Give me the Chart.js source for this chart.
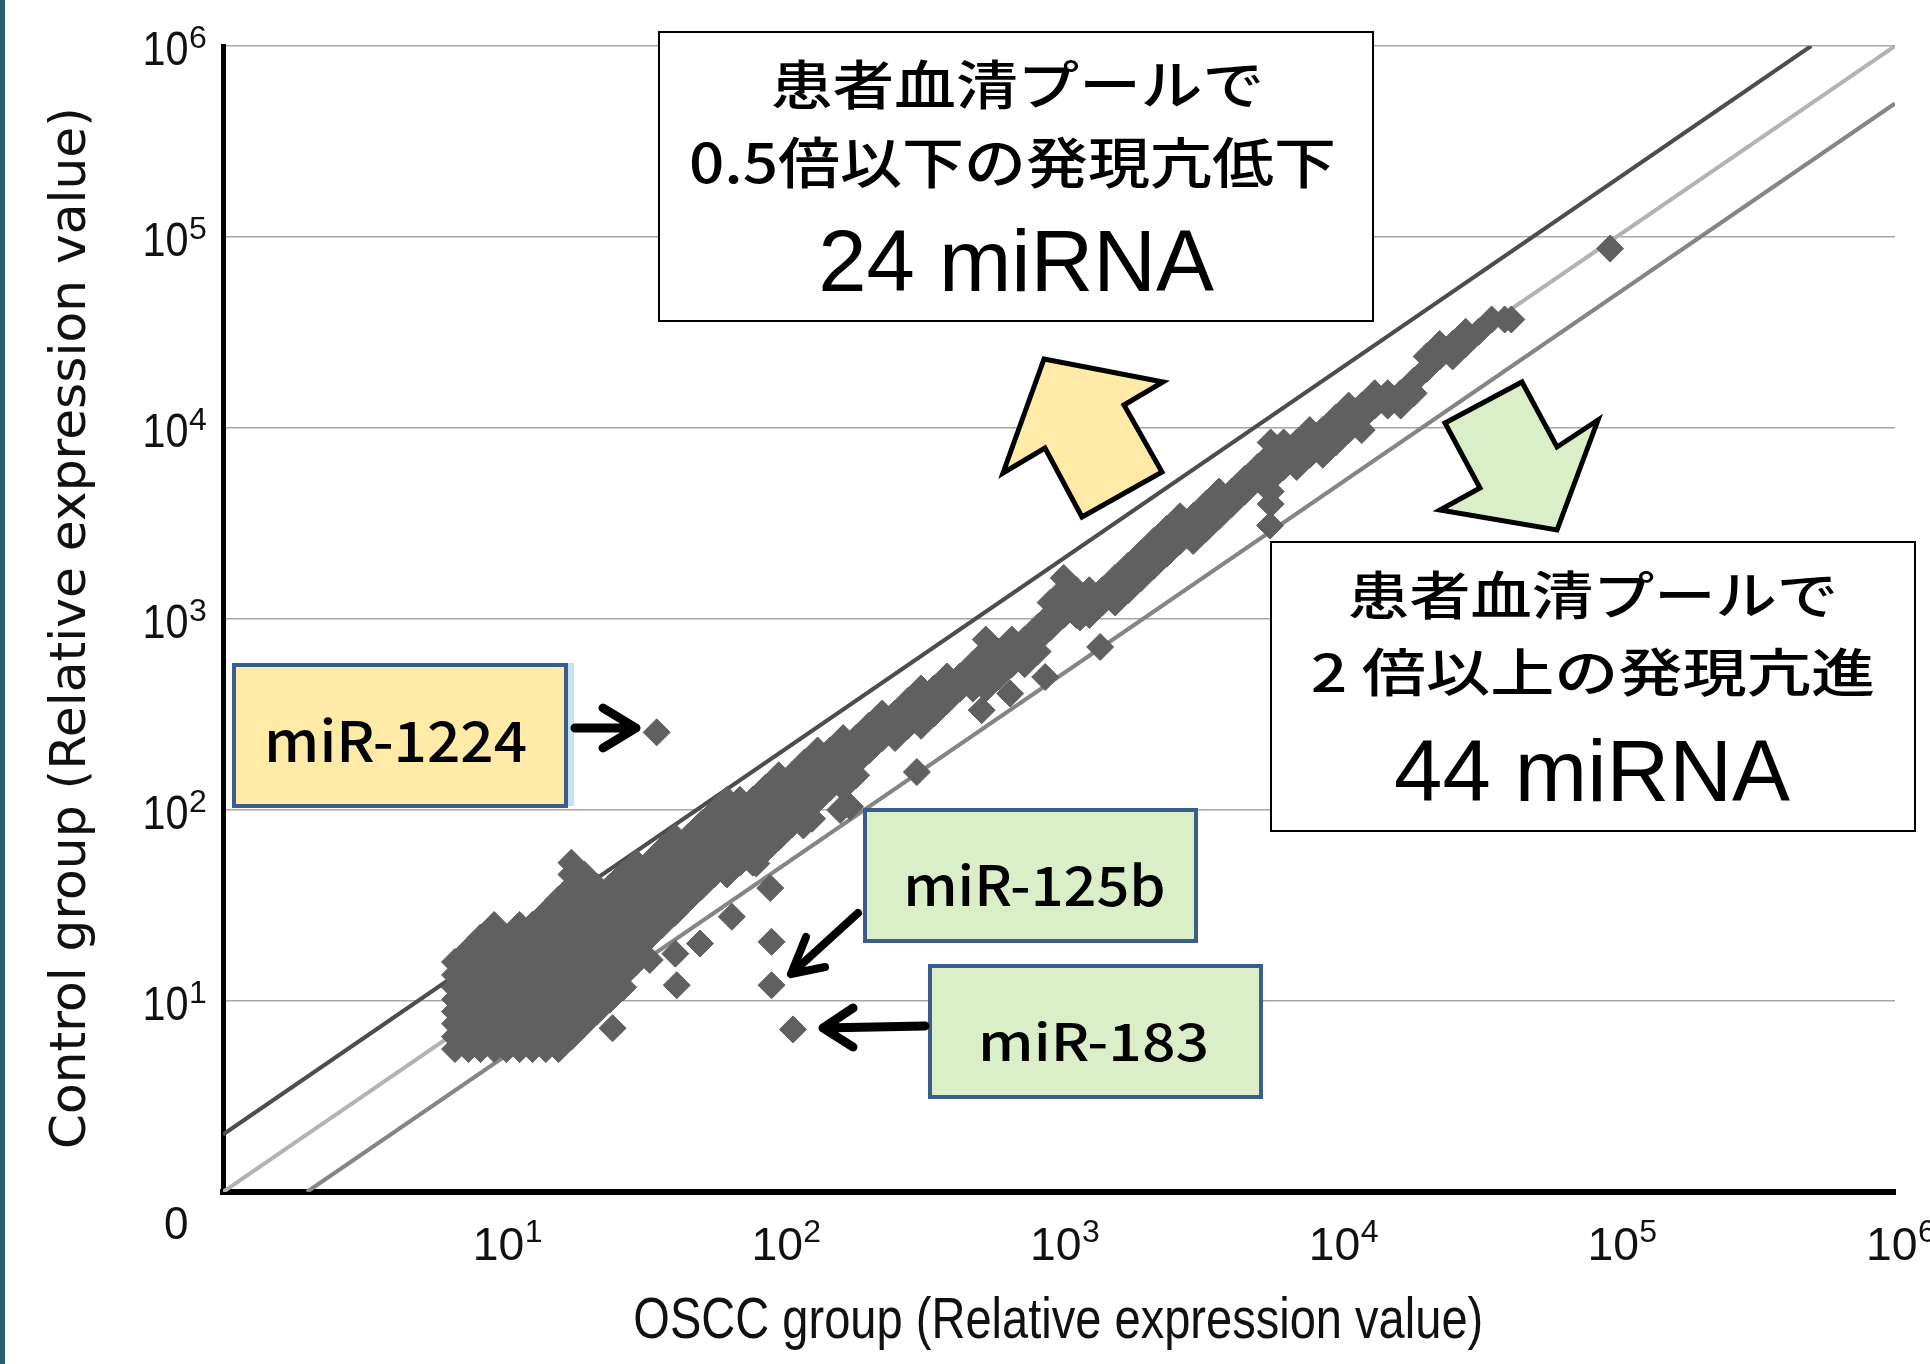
<!DOCTYPE html>
<html>
<head>
<meta charset="utf-8">
<title>OSCC vs Control miRNA</title>
<script src="https://cdn.jsdelivr.net/npm/chart.js@4.4.1/dist/chart.umd.min.js"></script>
<style>
  html, body { margin: 0; padding: 0; background: #fff; }
  #wrap { width: 1930px; height: 1364px; }
</style>
</head>
<body>
<div id="wrap"><canvas id="scatter" width="1930" height="1364"></canvas></div>
<script>
(() => {
  'use strict';

  // dense band of miRNAs, one column per OSCC value, control values per column
  const bandOscc = [6.8, 7.6, 8.4, 9.4, 10.4, 11.6, 12.9, 14.4, 16, 17.8, 19.8, 22, 24.5, 27.3, 30.4, 33.8,
    37.6, 41.9, 46.6, 51.9, 57.8, 64.3, 71.6, 79.7, 88.7, 98.7, 110, 122, 136, 151, 168, 187,
    208, 232, 258, 287, 320, 356, 396, 441, 491, 546, 608, 677, 753, 838, 933, 1040, 1155, 1285,
    1430, 1590, 1770, 1970, 2190, 2440, 2720, 3030, 3370, 3750, 4170, 4640, 5170, 5750, 6400,
    7130, 7940, 8840, 9840, 10950, 12200, 13580, 15120, 16830, 18740, 20860, 23230, 25860,
    28790, 32050, 35690, 39730, 42000];

  const bandControl = [
    [16, 13.7, 11.8, 10.2, 8.8, 7.6, 6.5, 5.6],
    [18.5, 16, 13.7, 11.8, 10.2, 8.8, 7.6, 6.5, 5.6],
    [21.5, 18.5, 16, 13.7, 11.8, 10.2, 8.8, 7.6, 6.5, 5.6],
    [25, 21.5, 18.5, 16, 13.7, 11.8, 10.2, 8.8, 7.6, 6.5, 5.6],
    [21.5, 18.5, 16, 13.7, 11.8, 10.2, 8.8, 7.6, 6.5, 5.6],
    [25, 21.5, 18.5, 16, 13.7, 11.8, 10.2, 8.8, 7.6, 6.5, 5.6],
    [25, 21.5, 18.5, 16, 13.7, 11.8, 10.2, 8.8, 7.6, 6.5, 5.6],
    [29, 25, 21.5, 18.5, 16, 13.7, 11.8, 10.2, 8.8, 7.6, 6.5, 5.6],
    [34, 29, 25, 21.5, 18.5, 16, 13.7, 11.8, 10.2, 8.8, 7.6, 6.5, 5.6],
    [53, 46, 39.5, 34, 29, 25, 21.5, 18.5, 16, 13.7, 11.8, 10.2, 8.8, 7.6, 6.5],
    [46, 39.5, 34, 29, 25, 21.5, 18.5, 16, 13.7, 11.8, 10.2, 8.8, 7.6],
    [39.5, 34, 29, 25, 21.5, 18.5, 16, 13.7, 11.8, 10.2, 8.8],
    [39.5, 34, 29, 25, 21.5, 18.5, 16, 13.7, 11.8, 10.2],
    [46, 39.5, 34, 29, 25, 21.5, 18.5, 16, 13.7, 11.8],
    [53, 46, 39.5, 34, 29, 25, 21.5, 18.5, 16],
    [53, 46, 39.5, 34, 29, 25, 21.5],
    [62, 53, 46, 39.5, 34, 29, 25],
    [72, 62, 53, 46, 39.5, 34, 29],
    [72, 62, 53, 46, 39.5, 34],
    [84, 72, 62, 53, 46, 39.5],
    [97, 84, 72, 62, 53, 46],
    [113, 97, 84, 72, 62, 53, 46],
    [113, 97, 84, 72, 62, 53],
    [113, 97, 84, 72, 62, 53],
    [131, 113, 97, 84, 72, 62],
    [152, 131, 113, 97, 84, 72],
    [152, 131, 113, 97, 84],
    [177, 152, 131, 113, 97],
    [205, 177, 152, 131, 113],
    [205, 177, 152, 131],
    [238, 205, 177, 152, 131],
    [238, 205, 177, 152],
    [276, 238, 205],
    [320, 276, 238],
    [320, 276, 238],
    [372, 320, 276],
    [432, 372, 320, 276],
    [432, 372, 320],
    [500, 432, 372],
    [500, 432],
    [580, 500, 432],
    [780, 675, 580, 500, 432],
    [675, 580, 500],
    [780, 675, 580],
    [780, 675, 580],
    [905, 780, 675],
    [1220, 1050, 905],
    [1640, 1415, 1220, 1050],
    [1415, 1220, 1050],
    [1415, 1220, 1050],
    [1415, 1220],
    [1640, 1415, 1220],
    [1900, 1640, 1415],
    [2200, 1900, 1640],
    [2560, 2200, 1900],
    [2970, 2560, 2200],
    [3450, 2970, 2560],
    [3450, 2970, 2560],
    [4000, 3450, 2970],
    [4650, 4000, 3450],
    [4650, 4000],
    [5400, 4650],
    [6250, 5400],
    [8400, 7250, 6250, 5400, 4650, 4000],
    [8400, 7250, 6250],
    [8400, 7250, 6250],
    [9750, 8400, 7250],
    [9750, 8400, 7250],
    [11300, 9750, 8400],
    [13100, 11300, 9750],
    [13100, 11300, 9750],
    [15200, 13100],
    [15200, 13100],
    [15200, 13100],
    [17600, 15200],
    [23700, 20400],
    [27500, 23700],
    [27500, 23700],
    [31900, 27500],
    [31900],
    [37000],
    [37000],
    [37000]
  ];

  // isolated miRNAs (miR-1224, miR-125b, miR-183 and others off the band)
  const soloOscc = [36, 95000, 93, 93, 111, 42.5, 67, 92, 51.5, 42, 34, 25, 130, 164, 178, 121, 82,
    309, 528, 668, 892, 1405, 5720, 1190];
  const soloControl = [255, 87000, 20.4, 12.1, 7.1, 12.1, 27.6, 39, 20, 17.7, 16.4, 7.2, 90, 100, 104, 83, 52.5,
    158, 333, 407, 497, 714, 3090, 1020];

  // guide lines: control = 2 x OSCC, = OSCC, = 0.5 x OSCC
  const upLineOscc = [1, 500000];
  const upLineControl = [2, 1000000];
  const eqLineOscc = [1, 1000000];
  const eqLineControl = [1, 1000000];
  const downLineOscc = [2, 1000000];
  const downLineControl = [1, 500000];

  const decadeTicks = [1, 10, 100, 1000, 10000, 100000, 1000000];
  const tickExponents = ['0', '1', '2', '3', '4', '5', '6'];

  const xTitle = 'OSCC group (Relative expression value)';
  const yTitle = 'Control group (Relative expression value)';

  const TICK_FONT = "48px 'Liberation Sans', Arial, sans-serif";
  const SUP_FONT = "32px 'Liberation Sans', Arial, sans-serif";
  const CJK_FONT = "500 60px 'Noto Sans CJK JP', sans-serif";
  const BIG_FONT = "90px 'Liberation Sans', Arial, sans-serif";

  const points = [];
  bandOscc.forEach((x, i) => bandControl[i].forEach(y => points.push({ x, y })));
  soloOscc.forEach((x, i) => points.push({ x, y: soloControl[i] }));

  const pairs = (xs, ys) => xs.map((x, i) => ({ x, y: ys[i] }));

  // draw text so that its ink fills the given box
  function fitText(ctx, text, font, x0, x1, y0, y1, color) {
    ctx.save();
    ctx.font = font;
    ctx.textAlign = 'left';
    ctx.textBaseline = 'alphabetic';
    const m = ctx.measureText(text);
    const w = m.actualBoundingBoxLeft + m.actualBoundingBoxRight;
    const h = m.actualBoundingBoxAscent + m.actualBoundingBoxDescent;
    const sx = (x1 - x0) / w;
    const sy = (y1 - y0) / h;
    ctx.translate(x0 + m.actualBoundingBoxLeft * sx, y0 + m.actualBoundingBoxAscent * sy);
    ctx.scale(sx, sy);
    ctx.fillStyle = color || '#000';
    ctx.fillText(text, 0, 0);
    ctx.restore();
  }

  function sup(ctx, text, x, baseline) {
    ctx.save();
    ctx.font = SUP_FONT;
    ctx.fillStyle = '#111';
    ctx.textAlign = 'left';
    ctx.textBaseline = 'alphabetic';
    ctx.fillText(text, x, baseline);
    ctx.restore();
  }

  function box(ctx, x0, y0, x1, y1, fill, stroke, lw) {
    ctx.save();
    ctx.fillStyle = fill;
    ctx.fillRect(x0, y0, x1 - x0, y1 - y0);
    ctx.lineWidth = lw;
    ctx.strokeStyle = stroke;
    ctx.strokeRect(x0 + lw / 2, y0 + lw / 2, x1 - x0 - lw, y1 - y0 - lw);
    ctx.restore();
  }

  function blockArrow(ctx, pts, fill) {
    ctx.save();
    ctx.beginPath();
    pts.forEach(([x, y], i) => (i ? ctx.lineTo(x, y) : ctx.moveTo(x, y)));
    ctx.closePath();
    ctx.fillStyle = fill;
    ctx.fill();
    ctx.lineWidth = 5;
    ctx.lineJoin = 'miter';
    ctx.strokeStyle = '#000';
    ctx.stroke();
    ctx.restore();
  }

  function pointer(ctx, from, tip, armA, armB, width) {
    ctx.save();
    ctx.strokeStyle = '#000';
    ctx.lineWidth = width;
    ctx.lineCap = 'round';
    ctx.lineJoin = 'round';
    ctx.beginPath();
    ctx.moveTo(from[0], from[1]);
    ctx.lineTo(tip[0], tip[1]);
    ctx.moveTo(armA[0], armA[1]);
    ctx.lineTo(tip[0], tip[1]);
    ctx.lineTo(armB[0], armB[1]);
    ctx.stroke();
    ctx.restore();
  }

  const decor = {
    id: 'decor',
    beforeDraw(chart) {
      const { ctx, width, height } = chart;
      ctx.save();
      ctx.fillStyle = '#fff';
      ctx.fillRect(0, 0, width, height);
      ctx.fillStyle = '#2b5e70';
      ctx.fillRect(0, 0, 5, height);
      ctx.restore();
    },
    afterDraw(chart) {
      const ctx = chart.ctx;
      const xs = chart.scales.x;
      const ys = chart.scales.y;

      // tick labels 10^n
      decadeTicks.forEach((v, i) => {
        if (i === 0) return;
        const g = ys.getPixelForValue(v);
        fitText(ctx, '10', TICK_FONT, 145, 187, g - 15, g + 19, '#111');
        sup(ctx, tickExponents[i], 189, g + 2);
        const t = xs.getPixelForValue(v);
        fitText(ctx, '10', TICK_FONT, t - 26, t + 21, 1227, 1260, '#111');
        sup(ctx, tickExponents[i], t + 23, 1242);
      });
      fitText(ctx, tickExponents[0], TICK_FONT, 165, 187, 1206, 1239, '#111');

      // axis titles
      fitText(ctx, xTitle, "56px 'Liberation Sans Narrow', 'Liberation Sans', sans-serif", 635, 1481, 1297, 1350, '#111');
      ctx.save();
      ctx.translate(70.5, 629);
      ctx.rotate(-Math.PI / 2);
      fitText(ctx, yTitle, "48px 'DejaVu Sans', sans-serif", -518, 518, -24.5, 24.5, '#111');
      ctx.restore();

      // big direction arrows
      blockArrow(ctx, [[1044, 359], [1163, 382], [1124, 405], [1162, 472], [1082, 517], [1045, 448], [1003, 473]], '#ffeaa8');
      blockArrow(ctx, [[1445, 423], [1522, 382], [1557, 447], [1598, 420], [1557, 530], [1440, 510], [1480, 488]], '#daefc8');

      // summary boxes
      box(ctx, 658, 31, 1374, 322, '#fff', '#000', 2);
      fitText(ctx, '患者血清プールで', CJK_FONT, 773, 1260, 58, 110);
      fitText(ctx, '0.5倍以下の発現亢低下', CJK_FONT, 691, 1333, 135, 188);
      fitText(ctx, '24 miRNA', BIG_FONT, 822, 1214, 227, 292);

      box(ctx, 1270, 541, 1916, 832, '#fff', '#000', 2);
      fitText(ctx, '患者血清プールで', CJK_FONT, 1350, 1834, 570, 620);
      fitText(ctx, '2 倍以上の発現亢進', CJK_FONT, 1313, 1874, 647, 697);
      fitText(ctx, '44 miRNA', BIG_FONT, 1396, 1790, 737, 802);

      // labelled miRNAs
      ctx.save();
      ctx.fillStyle = '#c4e3ee';
      ctx.fillRect(568, 663, 6, 143);
      ctx.restore();
      box(ctx, 232, 663, 568, 808, '#ffeaa8', '#3b5d8c', 4);
      fitText(ctx, 'miR-1224', CJK_FONT, 269, 526, 717, 762);
      box(ctx, 863, 808, 1198, 943, '#daefc8', '#3b5d8c', 4);
      fitText(ctx, 'miR-125b', CJK_FONT, 908, 1163, 862, 907);
      box(ctx, 928, 964, 1263, 1099, '#daefc8', '#3b5d8c', 4);
      fitText(ctx, 'miR-183', CJK_FONT, 983, 1206, 1020, 1062);

      pointer(ctx, [575, 728], [636, 728], [603, 708], [603, 748], 9);
      pointer(ctx, [858, 913], [791, 974], [806, 937], [825, 967], 8);
      pointer(ctx, [925, 1026], [823, 1028], [853, 1008], [853, 1047], 9);
    }
  };

  const lineStyle = (color) => ({
    showLine: true,
    pointRadius: 0,
    borderColor: color,
    borderWidth: 4,
    fill: false,
    order: 1
  });

  new Chart(document.getElementById('scatter'), {
    type: 'scatter',
    data: {
      datasets: [
        {
          label: 'miRNA',
          data: points,
          pointStyle: 'rectRot',
          pointRadius: 13.5,
          pointHoverRadius: 13.5,
          backgroundColor: '#606060',
          borderColor: '#606060',
          borderWidth: 1,
          order: 0
        },
        Object.assign({ label: '2x', data: pairs(upLineOscc, upLineControl) }, lineStyle('#4d4d4d')),
        Object.assign({ label: '1x', data: pairs(eqLineOscc, eqLineControl) }, lineStyle('#b3b3b3')),
        Object.assign({ label: '0.5x', data: pairs(downLineOscc, downLineControl) }, lineStyle('#858585'))
      ]
    },
    options: {
      responsive: false,
      animation: false,
      events: [],
      layout: { padding: { left: 223, right: 35, top: 46, bottom: 172 } },
      plugins: { legend: { display: false }, tooltip: { enabled: false } },
      scales: {
        x: {
          type: 'logarithmic',
          min: 1,
          max: 1000000,
          afterBuildTicks: s => { s.ticks = decadeTicks.map(v => ({ value: v })); },
          ticks: { display: false },
          grid: { display: false, drawTicks: false },
          border: { display: true, color: '#000', width: 6 }
        },
        y: {
          type: 'logarithmic',
          min: 1,
          max: 1000000,
          afterBuildTicks: s => { s.ticks = decadeTicks.map(v => ({ value: v })); },
          ticks: { display: false },
          grid: {
            drawTicks: false,
            lineWidth: 1.5,
            color: c => (c.tick && c.tick.value === 1 ? 'rgba(0,0,0,0)' : '#a6a6a6')
          },
          border: { display: true, color: '#000', width: 5 }
        }
      }
    },
    plugins: [decor]
  });
})();
</script>
</body>
</html>
